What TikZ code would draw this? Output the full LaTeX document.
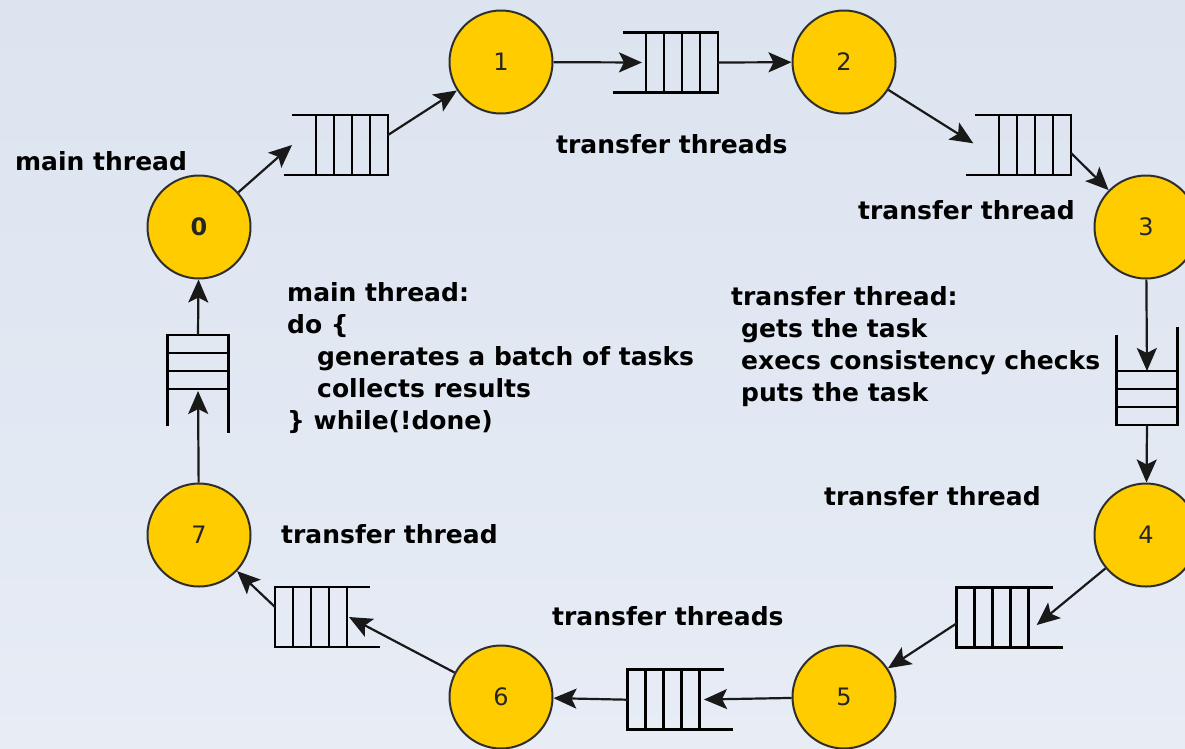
\documentclass[tikz,border=0pt]{standalone}
\usepackage{fontspec}
\setmainfont{DejaVu Sans}
\usetikzlibrary{arrows.meta}
\definecolor{bgtop}{HTML}{DCE4F0}
\definecolor{bgbot}{HTML}{E7ECF5}
\definecolor{threadfill}{HTML}{FFCC00}
\definecolor{rim}{HTML}{2E2E2E}
% dividers of a queue lying horizontally / standing vertically
\newcommand\hcells[1]{\foreach \i in {1,2,3}{\draw[rail] ([xshift=\i*18pt]#1.north west) -- ([xshift=\i*18pt]#1.south west);}}
\newcommand\vcells[1]{\foreach \i in {1,2}{\draw[rail] ([yshift=-\i*18pt]#1.north west) -- ([yshift=-\i*18pt]#1.north east);}}
\begin{document}
\begin{tikzpicture}[x=1pt,y=-1pt,
  thr/.style={circle, fill=threadfill, draw=rim, line width=2pt, minimum size=103pt, inner sep=0pt,
    text=black!85, font=\fontsize{24}{24}\selectfont},
  hq/.style={draw, line width=2.7pt, minimum width=72pt, minimum height=60pt, inner sep=0pt, outer sep=0pt},
  vq/.style={draw, line width=2.7pt, minimum width=60.6pt, minimum height=54pt, inner sep=0pt, outer sep=0pt},
  rail/.style={line width=2.7pt},
  flow/.style={line width=2.2pt, black!90, -{Stealth[length=23pt,width=20pt,inset=5pt]}},
  lbl/.style={font=\fontsize{25}{31}\selectfont\bfseries, inner sep=0pt, anchor=base west}]

% backdrop
\shade[top color=bgtop, bottom color=bgbot] (0,0) rectangle (1185,748);
\useasboundingbox (0,0) rectangle (1185,748);

% threads
\node[thr] (n0) at (199,227) {\bfseries 0};
\node[thr] (n1) at (501,62) {1};
\node[thr] (n2) at (844,62) {2};
\node[thr] (n3) at (1146,227) {3};
\node[thr] (n4) at (1146,535) {4};
\node[thr] (n5) at (844,697) {5};
\node[thr] (n6) at (501,697) {6};
\node[thr] (n7) at (199,535) {7};

% queues
\node[hq] (q01) at (352,145) {};
\hcells{q01}
\draw[rail] (q01.north west) -- ++(-24,0);
\draw[rail] (q01.south west) -- ++(-32,0);

\node[hq] (q12) at (682,62.5) {};
\hcells{q12}
\draw[rail] (q12.north west) -- ++(-23.3,0);
\draw[rail] (q12.south west) -- ++(-33.3,0);

\node[hq] (q23) at (1035,145) {};
\hcells{q23}
\draw[rail] (q23.north west) -- ++(-24.3,0);
\draw[rail] (q23.south west) -- ++(-32.6,0);

\node[vq] (q34) at (1147,398) {};
\vcells{q34}
\draw[rail] (q34.north west) -- ++(0,-36);
\draw[rail] (q34.north east) -- ++(0,-43.7);

\node[hq] (q45) at (992.7,617.7) {};
\hcells{q45}
\draw[rail] (q45.north east) -- ++(24.6,0);
\draw[rail] (q45.south east) -- ++(34.6,0);

\node[hq] (q56) at (663.8,699.7) {};
\hcells{q56}
\draw[rail] (q56.north east) -- ++(24,0);
\draw[rail] (q56.south east) -- ++(32.7,0);

\node[hq] (q67) at (311,617) {};
\hcells{q67}
\draw[rail] (q67.north east) -- ++(23,0);
\draw[rail] (q67.south east) -- ++(33,0);

\node[vq] (q70) at (198,362) {};
\vcells{q70}
\draw[rail] (q70.south west) -- ++(0,37);
\draw[rail] (q70.south east) -- ++(0,44.3);

% free ends of the hand-over arrows
\coordinate (t01) at (292,145);
\coordinate (s01) at ([yshift=10pt]q01.east);
\coordinate (t23) at (973.3,143.3);
\coordinate (s23) at ([yshift=-8pt]q23.east);
\coordinate (t45) at (1036.7,625);
\coordinate (s45) at ([yshift=-5.6pt]q45.west);
\coordinate (t56) at (704,699.5);
\coordinate (t67) at (349,617);
\coordinate (s67) at ([yshift=10pt]q67.west);

% flow of tasks round the ring
\draw[flow] (n0) -- (t01);
\draw[flow] (s01) -- (n1);
\draw[flow, shorten >=4pt] (n1) -- (q12.west);
\draw[flow] (q12.east) -- (n2);
\draw[flow] (n2) -- (t23);
\draw[flow] (s23) -- (n3);
\draw[flow] (n3) -- (q34.north);
\draw[flow] (q34.south) -- (n4);
\draw[flow] (n4) -- (t45);
\draw[flow] (s45) -- (n5);
\draw[flow] (n5) -- (t56);
\draw[flow] (q56.west) -- (n6);
\draw[flow] (n6) -- (t67);
\draw[flow] (s67) -- (n7);
\draw[flow, shorten >=2pt] (n7) -- (q70.south);
\draw[flow] (q70.north) -- (n0);

% labels
\node[lbl] (l0) at (15,170) {main thread};
\node[lbl] (l12) at (556,153) {transfer threads};
\node[lbl] (l23) at (858,219) {transfer thread};
\node[lbl] (l34) at (824,505) {transfer thread};
\node[lbl] (l56) at (552,625) {transfer threads};
\node[lbl] (l67) at (281,543) {transfer thread};

% what the main thread does
\node[lbl] (m1) at (287,301) {main thread:};
\node[lbl] (m2) at (287,333) {do \{};
\node[lbl] (m3) at (317,365) {generates a batch of tasks};
\node[lbl] (m4) at (317,397) {collects results};
\node[lbl] (m5) at (287,429) {\} while(!done)};

% what a transfer thread does
\node[lbl] (r1) at (731,305) {transfer thread:};
\node[lbl] (r2) at (741,337) {gets the task};
\node[lbl] (r3) at (741,369) {execs consistency checks};
\node[lbl] (r4) at (741,401) {puts the task};
\end{tikzpicture}
\end{document}
